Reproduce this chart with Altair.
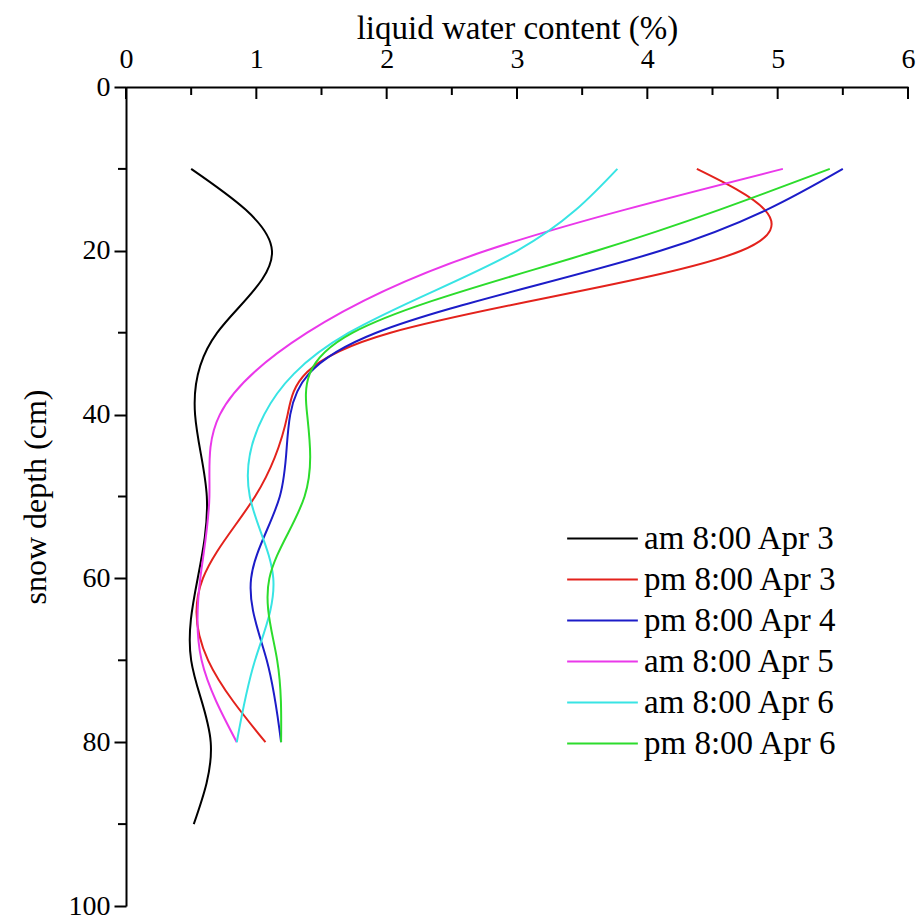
import altair as alt
import pandas as pd

# ---- data ----
series_names = ["am 8:00 Apr 3", "pm 8:00 Apr 3", "pm 8:00 Apr 4",
                "am 8:00 Apr 5", "am 8:00 Apr 6", "pm 8:00 Apr 6"]
series_colors = ["#000000", "#e3221c", "#1c1cc8", "#ea38ea", "#38e4e4", "#2cdc2c"]

depth_black = [10, 20, 30, 40, 50, 60, 70, 80, 90]
depth = [10, 20, 30, 40, 50, 60, 70, 80]

am_apr3 = [0.50, 1.12, 0.70, 0.53, 0.62, 0.55, 0.50, 0.65, 0.52]
pm_apr3 = [4.38, 4.72, 2.03, 1.24, 0.99, 0.59, 0.63, 1.07]
pm_apr4 = [5.50, 4.10, 1.92, 1.26, 1.18, 0.96, 1.08, 1.19]
am_apr5 = [5.04, 2.76, 1.39, 0.72, 0.64, 0.57, 0.58, 0.85]
am_apr6 = [3.77, 3.00, 1.71, 1.06, 0.95, 1.13, 0.99, 0.85]
pm_apr6 = [5.40, 3.61, 1.74, 1.39, 1.37, 1.10, 1.16, 1.19]

x_major = [0, 1, 2, 3, 4, 5, 6]
x_minor = [0.5, 1.5, 2.5, 3.5, 4.5, 5.5]
y_major = [0, 20, 40, 60, 80, 100]
y_minor = [10, 30, 50, 70, 90]

# ---- build table ----
rows = []
all_vals = [am_apr3, pm_apr3, pm_apr4, am_apr5, am_apr6, pm_apr6]
for name, vals in zip(series_names, all_vals):
    d = depth_black if len(vals) == len(depth_black) else depth
    for dd, v in zip(d, vals):
        rows.append({"series": name, "depth": dd, "lwc": v})
df = pd.DataFrame(rows)

FONT = "Liberation Serif"
xscale = alt.Scale(domain=[0, 6], nice=False, zero=False)
yscale = alt.Scale(domain=[0, 100], reverse=True, nice=False, zero=False)

x_axis = alt.Axis(orient="top", values=x_major, ticks=False, tickSize=0,
                  title="liquid water content (%)", labelPadding=14,
                  titlePadding=0, grid=False, domainColor="black",
                  domainWidth=2, labelFont=FONT, labelFontSize=28,
                  labelColor="black", titleFont=FONT, titleFontSize=33,
                  titleFontWeight="normal", titleColor="black",
                  labelFlush=False)
y_axis = alt.Axis(orient="left", values=y_major, tickSize=12, tickWidth=2,
                  tickColor="black", title="snow depth (cm)", labelPadding=4,
                  titlePadding=16, grid=False, domainColor="black",
                  domainWidth=2, labelFont=FONT, labelFontSize=28,
                  labelColor="black", titleFont=FONT, titleFontSize=32,
                  titleFontWeight="normal", titleColor="black",
                  labelFlush=False)

lines = alt.Chart(df).mark_line(interpolate="natural", strokeWidth=2).encode(
    x=alt.X("lwc:Q", scale=xscale, axis=x_axis),
    y=alt.Y("depth:Q", scale=yscale, axis=y_axis),
    color=alt.Color("series:N", scale=alt.Scale(domain=series_names, range=series_colors),
                    sort=series_names,
                    legend=alt.Legend(title=None, orient="none", legendX=440, legendY=431,
                                      symbolType="stroke", symbolSize=5000,
                                      symbolStrokeWidth=2, labelFont=FONT,
                                      labelFontSize=33, labelColor="black",
                                      labelLimit=400, rowPadding=0, clipHeight=41,
                                      labelOffset=5)),
    order=alt.Order("depth:Q"),
    detail="series:N",
)

xmaj = alt.Chart(pd.DataFrame({"lwc": x_major})).mark_rule(color="black", strokeWidth=2).encode(
    x=alt.X("lwc:Q", scale=xscale, axis=x_axis), y=alt.value(0), y2=alt.value(12))
xmin = alt.Chart(pd.DataFrame({"lwc": x_minor})).mark_rule(color="black", strokeWidth=2).encode(
    x=alt.X("lwc:Q", scale=xscale, axis=x_axis), y=alt.value(0), y2=alt.value(8))
ymin = alt.Chart(pd.DataFrame({"depth": y_minor})).mark_rule(color="black", strokeWidth=2).encode(
    y=alt.Y("depth:Q", scale=yscale, axis=y_axis), x=alt.value(-8), x2=alt.value(0))

chart = alt.layer(lines, xmaj, xmin, ymin).properties(
    width=782, height=819,
    autosize=alt.AutoSizeParams(type="none"),
    padding={"left": 126, "top": 87, "right": 11, "bottom": 13},
    background="white",
).configure_view(stroke=None)

chart.save("out.html", embed_options={"renderer": "svg", "actions": False})
